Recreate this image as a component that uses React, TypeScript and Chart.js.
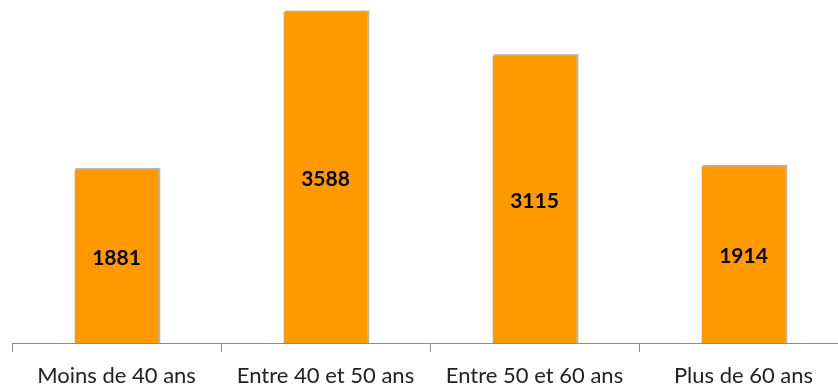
import React, { useEffect, useRef } from "react";
import { Chart, registerables } from "chart.js";
Chart.register(...registerables);

const categories = ["Moins de 40 ans", "Entre 40 et 50 ans", "Entre 50 et 60 ans", "Plus de 60 ans"];
const values = [1881, 3588, 3115, 1914];

const labelPlugin = {
  id: "centerLabels",
  afterDatasetsDraw(chart: any) {
    const ctx = chart.ctx;
    const meta = chart.getDatasetMeta(0);
    ctx.save();
    ctx.font = "bold 21px Lato, sans-serif";
    ctx.fillStyle = "#000";
    ctx.textAlign = "center";
    ctx.textBaseline = "middle";
    meta.data.forEach((bar: any, i: number) => {
      const y = (bar.y + bar.base) / 2 + 2;
      ctx.fillText(String(values[i]), bar.x, y);
    });
    ctx.restore();
  },
};

const shadowPlugin = {
  id: "barShadow",
  beforeDatasetsDraw(chart: any) {
    const ctx = chart.ctx;
    const meta = chart.getDatasetMeta(0);
    ctx.save();
    ctx.fillStyle = "rgba(120,120,120,0.55)";
    meta.data.forEach((bar: any) => {
      const w = bar.width;
      ctx.fillRect(bar.x - w / 2 + 1, bar.y - 1.5, w + 1, bar.base - bar.y + 1.5);
    });
    ctx.restore();
  },
};

export default function App() {
  const ref = useRef<HTMLCanvasElement>(null);
  useEffect(() => {
    const chart = new Chart(ref.current!, {
      type: "bar",
      data: {
        labels: categories,
        datasets: [
          {
            data: values,
            backgroundColor: "#FF9900",
            borderWidth: 0,
            categoryPercentage: 1,
            barPercentage: 0.4,
          },
        ],
      },
      options: {
        animation: false,
        responsive: false,
        maintainAspectRatio: false,
        layout: { padding: { left: 12, right: 22, top: 0, bottom: 0 } },
        plugins: { legend: { display: false }, tooltip: { enabled: false } },
        scales: {
          x: {
            grid: {
              offset: true,
              drawOnChartArea: false,
              drawTicks: true,
              tickLength: 9,
              color: "#8c8c8c",
              lineWidth: 1,
            },
            border: { display: true, color: "#8c8c8c", width: 1 },
            ticks: {
              color: "#222",
              font: { family: "Lato, sans-serif", size: 22 },
              padding: 11,
              maxRotation: 0,
            },
            afterFit(scale: any) {
              scale.height = 42;
            },
          },
          y: {
            display: false,
            min: 0,
            max: 4000,
          },
        },
      },
      plugins: [shadowPlugin, labelPlugin],
    });
    return () => chart.destroy();
  }, []);
  return (
    <div style={{ position: "fixed", left: 0, top: 0, width: 838, height: 385, overflow: "hidden", background: "#fff" }}>
      <canvas ref={ref} width={870} height={411} style={{ position: "absolute", left: 0, top: -26, width: 870, height: 411 }} />
    </div>
  );
}
